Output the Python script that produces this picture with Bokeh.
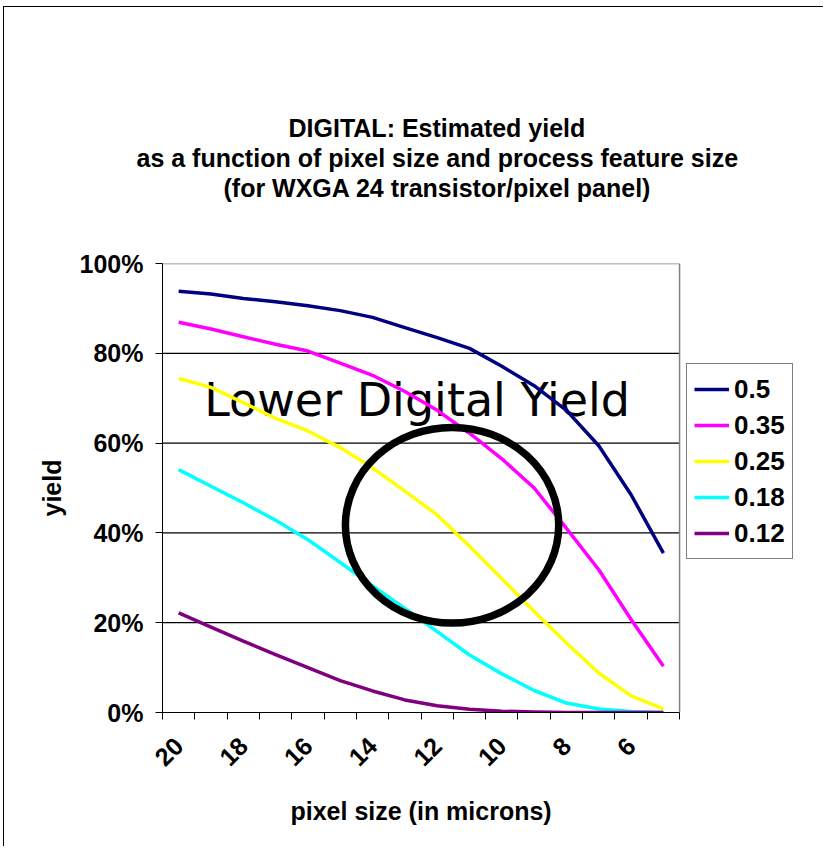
import math
from bokeh.plotting import figure
from bokeh.models import Range1d, FixedTicker, PrintfTickFormatter, Legend, LegendItem, Title
from bokeh.core.properties import value
from bokeh.embed import file_html
from bokeh.resources import INLINE

# ---- data -------------------------------------------------------------
pixel_sizes = [20, 19, 18, 17, 16, 15, 14, 13, 12, 11, 10, 9, 8, 7, 6, 5]
pixel_labels = [20, 18, 16, 14, 12, 10, 8, 6]
y_ticks = [0, 20, 40, 60, 80, 100]
grid_ticks = [20, 40, 60, 80]

feature_sizes = ["0.5", "0.35", "0.25", "0.18", "0.12"]
yield_050 = [93.8, 93.2, 92.2, 91.5, 90.6, 89.5, 88.0, 85.7, 83.5, 81.1, 77.1, 72.8, 67.3, 59.4, 48.5, 35.5]
yield_035 = [86.9, 85.4, 83.7, 82.0, 80.5, 77.8, 75.1, 71.5, 67.3, 62.2, 56.5, 50.0, 41.0, 31.8, 20.7, 10.3]
yield_025 = [74.4, 72.4, 69.0, 65.5, 62.7, 59.0, 54.5, 49.3, 44.0, 37.0, 29.8, 22.5, 15.5, 8.8, 3.7, 0.8]
yield_018 = [54.1, 50.4, 46.7, 42.8, 38.5, 33.4, 28.2, 23.2, 18.0, 12.8, 8.6, 4.9, 2.1, 0.8, 0.2, 0.0]
yield_012 = [22.2, 19.0, 15.9, 12.9, 10.0, 7.1, 4.8, 2.8, 1.5, 0.7, 0.3, 0.1, 0.0, 0.0, 0.0, 0.0]
series = [yield_050, yield_035, yield_025, yield_018, yield_012]
colors = ["#000080", "#FF00FF", "#FFFF00", "#00FFFF", "#800080"]

note_text = "Lower Digital Yield"
note_x, note_y = 12.62, 69.7          # annotation anchor (data units)
ring_x, ring_y = 11.54, 41.7          # ring centre (data units)
ring_w, ring_h = 6.6, 43.6            # ring size (data units)
legend_space = 4.33                   # room right of the plot area for the legend (x units)

title_lines = ["DIGITAL: Estimated yield",
               "as a function of pixel size and process feature size",
               "(for WXGA 24 transistor/pixel panel)"]
title_offsets = [126, -26, 61]        # px from plot-area left edge (centres the lines)
x_title = "pixel size (in microns)"
y_title = "yield"

FONT = "Liberation Sans"

x_left = pixel_sizes[0] + 0.5
x_right = pixel_sizes[-1] - 0.5
boundaries = [s + 0.5 for s in pixel_sizes] + [x_right]

p = figure(width=820, height=840, output_backend="svg", toolbar_location=None, title=None,
           x_range=Range1d(x_left, x_right - legend_space),
           y_range=Range1d(y_ticks[0], y_ticks[-1]),
           min_border_left=158, min_border_right=5,
           min_border_top=256, min_border_bottom=135,
           background_fill_color="white", border_fill_color="white")
p.styles = {"border-left": "1px solid black", "border-top": "1px solid black",
            "margin-left": "3px", "margin-top": "6px"}
p.outline_line_color = None

# spacer between title block and plot area
p.add_layout(Title(text=" ", text_font=FONT, text_font_size="25px", standoff=32), "above")
# title: three lines, nearest to the plot first
for line, off in reversed(list(zip(title_lines, title_offsets))):
    p.add_layout(Title(text=line, align="left", offset=off, standoff=0,
                       text_color="black", text_font=FONT,
                       text_font_size="25px", text_font_style="bold"),
                 "above")

# x axis
xa = p.xaxis[0]
xa.bounds = (x_right, x_left)
xa.ticker = FixedTicker(ticks=pixel_labels, minor_ticks=boundaries)
xa.major_tick_out = 0
xa.major_tick_in = 0
xa.minor_tick_out = 7
xa.minor_tick_in = 0
xa.minor_tick_line_color = "black"
xa.axis_line_color = "black"
xa.major_label_orientation = math.pi / 4
xa.major_label_standoff = 22
xa.major_label_text_font = FONT
xa.major_label_text_font_size = "25px"
xa.major_label_text_font_style = "bold"
xa.major_label_text_color = "black"
# x-axis title, centred under the category span
p.add_layout(Title(text=x_title, align="left", offset=128, standoff=37,
                   text_color="black", text_font=FONT,
                   text_font_size="25px", text_font_style="bold"),
             "below")

# y axis
ya = p.yaxis[0]
ya.ticker = FixedTicker(ticks=y_ticks)
ya.formatter = PrintfTickFormatter(format="%d%%")
ya.major_tick_out = 7
ya.major_tick_in = 0
ya.minor_tick_out = 0
ya.minor_tick_in = 0
ya.axis_line_color = "black"
ya.major_label_standoff = 12
ya.major_label_text_font = FONT
ya.major_label_text_font_size = "25px"
ya.major_label_text_font_style = "bold"
ya.major_label_text_color = "black"
ya.axis_label = y_title
ya.axis_label_text_color = "black"
ya.axis_label_text_font = FONT
ya.axis_label_text_font_size = "25px"
ya.axis_label_text_font_style = "bold"
ya.axis_label_standoff = 11

# grid lines and plot-area border, limited to the category span
p.xgrid.visible = False
p.ygrid.visible = False
p.segment(x0=[x_left] * len(grid_ticks), y0=grid_ticks,
          x1=[x_right] * len(grid_ticks), y1=grid_ticks,
          line_color="black", line_width=1.2)
p.segment(x0=[x_left, x_right], y0=[y_ticks[-1], y_ticks[-1]],
          x1=[x_right, x_right], y1=[y_ticks[-1], y_ticks[0]],
          line_color="#808080", line_width=1.5)

# annotation text
p.text(x=[note_x], y=[note_y], text=[note_text], text_font=value("DejaVu Sans"),
       text_font_size="46px", text_align="center", text_baseline="alphabetic",
       text_color="black")

# series
renderers = []
for vals, col in zip(series, colors):
    r = p.line(pixel_sizes, vals, line_color=col, line_width=3.5, line_join="round")
    renderers.append(r)

# ring
p.ellipse(x=[ring_x], y=[ring_y], width=ring_w, height=ring_h,
          fill_alpha=0, line_color="black", line_width=7.5)

legend = Legend(items=[LegendItem(label=lab, renderers=[r]) for lab, r in zip(feature_sizes, renderers)],
                location=(524, 153), orientation="vertical", margin=0,
                border_line_color="black", border_line_width=1,
                background_fill_color="white",
                label_text_font=FONT, label_text_font_size="26px", label_text_font_style="bold",
                label_text_color="black",
                glyph_width=35, glyph_height=36, label_height=36,
                spacing=0, padding=7, label_standoff=5)
p.add_layout(legend, "center")

open("out.html", "w").write(file_html(p, INLINE))
